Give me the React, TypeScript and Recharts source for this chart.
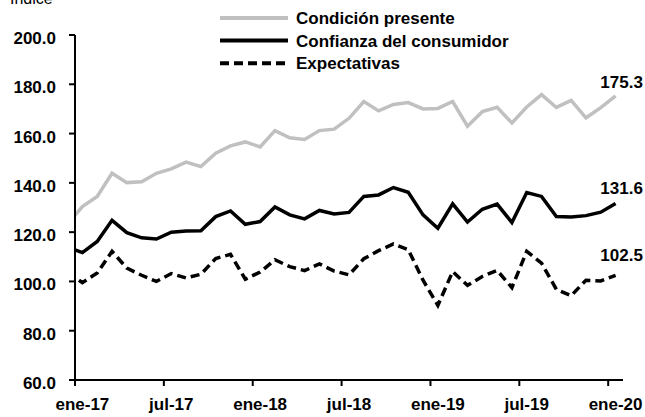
import { LineChart, Line, XAxis, YAxis, Legend } from 'recharts';

// monthly index values, dic-16 is only there so the line runs into the axis (it gets clipped)
const months = [
  'dic-16',
  'ene-17', 'feb-17', 'mar-17', 'abr-17', 'may-17', 'jun-17', 'jul-17', 'ago-17', 'sep-17', 'oct-17', 'nov-17', 'dic-17',
  'ene-18', 'feb-18', 'mar-18', 'abr-18', 'may-18', 'jun-18', 'jul-18', 'ago-18', 'sep-18', 'oct-18', 'nov-18', 'dic-18',
  'ene-19', 'feb-19', 'mar-19', 'abr-19', 'may-19', 'jun-19', 'jul-19', 'ago-19', 'sep-19', 'oct-19', 'nov-19', 'dic-19',
  'ene-20'
];

const presente = [
  123.3, 130.4, 134.5, 143.9, 140.1, 140.4, 143.9, 145.7, 148.4, 146.6, 152.0, 155.0, 156.6,
  154.6, 161.2, 158.3, 157.6, 161.2, 161.8, 166.2, 173.0, 169.2, 171.8, 172.6, 170.0,
  170.2, 173.0, 163.0, 168.9, 170.7, 164.3, 170.8, 175.8, 170.6, 173.5, 166.4, 170.5,
  175.3
];

const confianza = [
  113.9, 111.7, 116.2, 124.8, 119.8, 117.7, 117.2, 120.0, 120.5, 120.6, 126.3, 128.6, 123.2,
  124.3, 130.2, 127.0, 125.4, 128.8, 127.4, 128.0, 134.5, 135.1, 138.1, 136.2, 127.0,
  121.6, 131.5, 124.1, 129.3, 131.4, 123.9, 136.1, 134.5, 126.3, 126.1, 126.7, 128.1,
  131.6
];

const expectativas = [
  103.8, 99.5, 103.4, 112.2, 105.4, 102.5, 100.0, 103.2, 101.4, 102.9, 109.3, 111.0, 100.9,
  103.8, 108.8, 106.0, 104.4, 107.1, 104.2, 102.7, 109.2, 112.5, 115.2, 112.9, 100.5,
  90.3, 104.0, 98.4, 102.0, 104.5, 97.5, 112.2, 107.4, 96.8, 94.2, 100.5, 100.2,
  102.5
];

const tickLabels = ['ene-17', 'jul-17', 'ene-18', 'jul-18', 'ene-19', 'jul-19', 'ene-20'];
const yTicks = [60, 80, 100, 120, 140, 160, 180, 200];

const data = months.map((m, i) => ({
  t: i - 1,
  mes: m,
  presente: presente[i],
  confianza: confianza[i],
  expectativas: expectativas[i]
}));

const lastIndex = months.length - 1;
const labelTicks = tickLabels.map((l) => months.indexOf(l) - 1);
const boundaryTicks = labelTicks.map((t) => t - 0.5);
const xDomain = [-0.5, data[lastIndex].t + 0.5];

const FONT = '"Liberation Sans", Arial, sans-serif';

const series = [
  { key: 'presente', name: 'Condición presente', color: '#c0c0c0', dash: undefined, labelDy: -8 },
  { key: 'confianza', name: 'Confianza del consumidor', color: '#000000', dash: undefined, labelDy: -10 },
  { key: 'expectativas', name: 'Expectativas', color: '#000000', dash: '9 5', labelDy: -14 }
];

const endLabel = (dy: number) => (props: any) => {
  const { x, y, index, value } = props;
  if (index !== lastIndex) return null;
  return (
    <text x={x + 6} y={y + dy} textAnchor="middle" fontFamily={FONT} fontSize={17} fontWeight="bold" fill="#000">
      {Number(value).toFixed(1)}
    </text>
  );
};

function LegendBox() {
  return (
    <svg width={320} height={80}>
      {series.map((s, i) => {
        const y = 18 + i * 22.6;
        return (
          <g key={s.key}>
            <line x1={2} x2={70} y1={y} y2={y} stroke={s.color} strokeWidth={4} strokeDasharray={s.dash} />
            <text x={78} y={y} dy="0.36em" fontFamily={FONT} fontSize={17} fontWeight="bold" fill="#000">
              {s.name}
            </text>
          </g>
        );
      })}
    </svg>
  );
}

export default function App() {
  return (
    <div style={{ position: 'absolute', left: 0, top: 0, width: 645, height: 417, background: '#fff', fontFamily: FONT }}>
      <svg width={80} height={10} style={{ position: 'absolute', left: 0, top: 0 }}>
        <text x={10} y={4} fontFamily={FONT} fontSize={16} fill="#000">Índice</text>
      </svg>
      <LineChart width={645} height={417} data={data} margin={{ top: 35, right: 22, bottom: 0, left: 0 }}>
        <XAxis
          xAxisId="b-labels"
          type="number"
          dataKey="t"
          domain={xDomain}
          allowDataOverflow
          ticks={labelTicks}
          tickFormatter={(t: number) => months[t + 1]}
          axisLine={false}
          tickLine={false}
          tickSize={6}
          tickMargin={11}
          height={36}
          interval={0}
          tick={{ fill: '#000', fontSize: 17, fontWeight: 'bold', fontFamily: FONT }}
        />
        <XAxis
          xAxisId="a-marks"
          type="number"
          dataKey="t"
          domain={xDomain}
          allowDataOverflow
          ticks={boundaryTicks}
          tickFormatter={() => ''}
          interval={0}
          height={1}
          tickSize={6}
          axisLine={{ stroke: '#000', strokeWidth: 2 }}
          tickLine={{ stroke: '#000', strokeWidth: 2 }}
        />
        <YAxis
          domain={[60, 200]}
          ticks={yTicks}
          width={75}
          interval={0}
          tickFormatter={(v: number) => v.toFixed(1)}
          tickSize={6}
          tickMargin={13}
          axisLine={{ stroke: '#000', strokeWidth: 2 }}
          tickLine={{ stroke: '#000', strokeWidth: 2 }}
          tick={{ fill: '#000', fontSize: 17, fontWeight: 'bold', fontFamily: FONT, dy: 3 }}
        />
        <Legend
          layout="horizontal"
          verticalAlign="middle"
          align="center"
          content={() => <LegendBox />}
          wrapperStyle={{ top: 0, left: 218, width: 320, height: 80 }}
        />
        {series.map((s) => (
          <Line
            key={s.key}
            xAxisId="b-labels"
            type="linear"
            dataKey={s.key}
            name={s.name}
            stroke={s.color}
            strokeWidth={3.5}
            strokeDasharray={s.dash}
            dot={false}
            activeDot={false}
            label={endLabel(s.labelDy)}
            isAnimationActive={false}
          />
        ))}
      </LineChart>
    </div>
  );
}
